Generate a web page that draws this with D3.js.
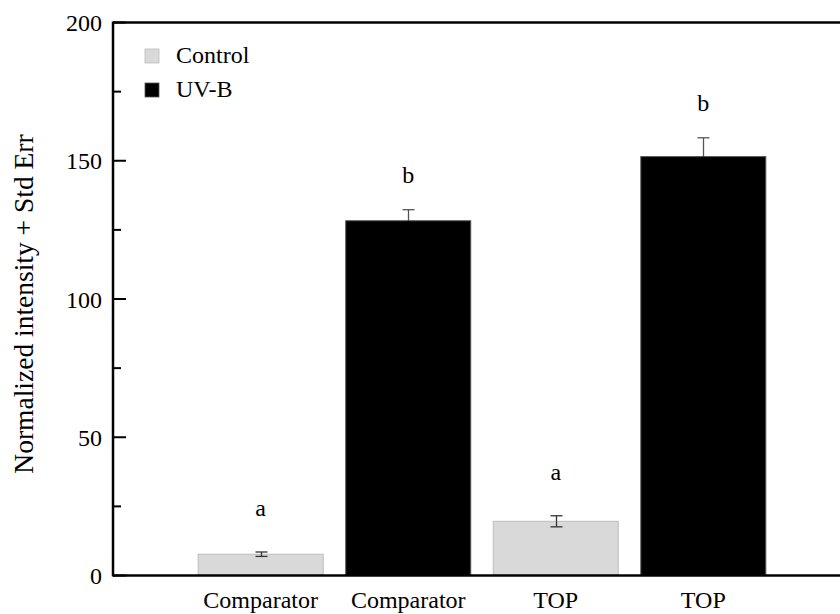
<!DOCTYPE html>
<html>
<head>
<meta charset="utf-8">
<script src="https://cdn.jsdelivr.net/npm/d3@7"></script>
<style>
  body { margin: 0; background: #fff; }
  svg { display: block; }
  text { font-family: "Liberation Serif", "Times New Roman", serif; fill: #000; }
</style>
</head>
<body>
<svg></svg>
<script>
let width = 840;
let height = 614;

// values
let categories = ['Comparator', 'Comparator', 'TOP', 'TOP'];
let treatments = ['Control', 'UV-B', 'Control', 'UV-B'];
let means = [7.7, 128.3, 19.6, 151.5];
let errors = [0.8, 4.0, 2.0, 6.8];
let letters = ['a', 'b', 'a', 'b'];
let legendNames = ['Control', 'UV-B'];
let yTicks = [0, 50, 100, 150, 200];
let yMinorTicks = [25, 75, 125, 175];

let fills = { 'Control': '#d9d9d9', 'UV-B': '#000000' };
let strokes = { 'Control': '#bdbdbd', 'UV-B': '#555555' };

let svg = d3.select('svg')
    .attr('width', width)
    .attr('height', height)

let x0 = 113, y0 = 575.5, yTop = 22.5;

let x = d3.scaleBand()
    .domain(d3.range(categories.length))
    .range([x0, 851])
    .paddingInner(0.146)
    .paddingOuter(0.574)

let y = d3.scaleLinear()
    .domain([0, 200])
    .range([y0, yTop])

let bars = svg.append('g').selectAll('g')
    .data(d3.range(categories.length))
    .enter()
    .append('g')

bars.append('rect')
    .attr('x', i => x(i) + 0.5)
    .attr('y', i => y(means[i]))
    .attr('width', x.bandwidth() - 1)
    .attr('height', i => y(0) - y(means[i]))
    .attr('fill', i => fills[treatments[i]])
    .attr('stroke', i => strokes[treatments[i]])
    .attr('stroke-width', 1)

// error bars; the part inside a black bar does not show
bars.each(function (i) {
    let g = d3.select(this);
    let cx = Math.round(x(i) + x.bandwidth() / 2) + 0.5;
    let mid = y(means[i]);
    let hi = y(means[i] + errors[i]);
    let lo = y(means[i] - errors[i]);
    let dark = treatments[i] == 'UV-B';
    let col = dark ? '#555' : '#333';
    let lowCol = dark ? '#000' : '#333';
    g.append('line')
        .attr('x1', cx).attr('x2', cx)
        .attr('y1', hi).attr('y2', mid)
        .attr('stroke', col).attr('stroke-width', 1.3)
    g.append('line')
        .attr('x1', cx).attr('x2', cx)
        .attr('y1', mid).attr('y2', lo)
        .attr('stroke', lowCol).attr('stroke-width', 1.3)
    g.append('line')
        .attr('x1', cx - 6).attr('x2', cx + 6)
        .attr('y1', hi).attr('y2', hi)
        .attr('stroke', col).attr('stroke-width', 1.3)
    g.append('line')
        .attr('x1', cx - 6).attr('x2', cx + 6)
        .attr('y1', lo).attr('y2', lo)
        .attr('stroke', lowCol).attr('stroke-width', 1.3)
    g.append('text')
        .attr('x', x(i) + x.bandwidth() / 2)
        .attr('y', hi - (letters[i] == 'a' ? 36 : 27))
        .attr('text-anchor', 'middle')
        .attr('font-size', 24)
        .text(letters[i])
})

// y axis ticks (inward)
let axis = svg.append('g')
axis.selectAll('.major')
    .data(yTicks)
    .enter()
    .append('line')
    .attr('x1', x0).attr('x2', x0 + 13)
    .attr('y1', d => y(d)).attr('y2', d => y(d))
    .attr('stroke', '#000').attr('stroke-width', 2)
axis.selectAll('.minor')
    .data(yMinorTicks)
    .enter()
    .append('line')
    .attr('x1', x0).attr('x2', x0 + 8)
    .attr('y1', d => y(d)).attr('y2', d => y(d))
    .attr('stroke', '#000').attr('stroke-width', 2)
axis.selectAll('.lab')
    .data(yTicks)
    .enter()
    .append('text')
    .attr('x', 102)
    .attr('y', d => y(d) + 8.5)
    .attr('text-anchor', 'end')
    .attr('font-size', 24)
    .text(d => d)

// frame lines
svg.append('line')
    .attr('x1', x0).attr('x2', x0)
    .attr('y1', yTop - 1).attr('y2', y0 + 1)
    .attr('stroke', '#000').attr('stroke-width', 2.5)
svg.append('line')
    .attr('x1', x0).attr('x2', width)
    .attr('y1', y0).attr('y2', y0)
    .attr('stroke', '#000').attr('stroke-width', 2.5)
svg.append('line')
    .attr('x1', x0).attr('x2', width)
    .attr('y1', yTop).attr('y2', yTop)
    .attr('stroke', '#000').attr('stroke-width', 2.5)

// x labels
svg.append('g').selectAll('text')
    .data(d3.range(categories.length))
    .enter()
    .append('text')
    .attr('x', i => x(i) + x.bandwidth() / 2)
    .attr('y', 608)
    .attr('text-anchor', 'middle')
    .attr('font-size', 24)
    .text(i => categories[i])

// y label
svg.append('text')
    .attr('transform', 'translate(33,' + ((y0 + yTop) / 2 + 5) + ') rotate(-90)')
    .attr('text-anchor', 'middle')
    .attr('font-size', 27.5)
    .text('Normalized intensity + Std Err')

// legend
let legend = svg.append('g').selectAll('g')
    .data(legendNames)
    .enter()
    .append('g')
    .attr('transform', (d, i) => 'translate(145,' + (49 + i * 34) + ')')
legend.append('rect')
    .attr('width', 14).attr('height', 14)
    .attr('fill', d => fills[d])
    .attr('stroke', d => strokes[d])
    .attr('stroke-width', 0.8)
legend.append('text')
    .attr('x', 31)
    .attr('y', 14)
    .attr('font-size', 24)
    .text(d => d)
</script>
</body>
</html>
